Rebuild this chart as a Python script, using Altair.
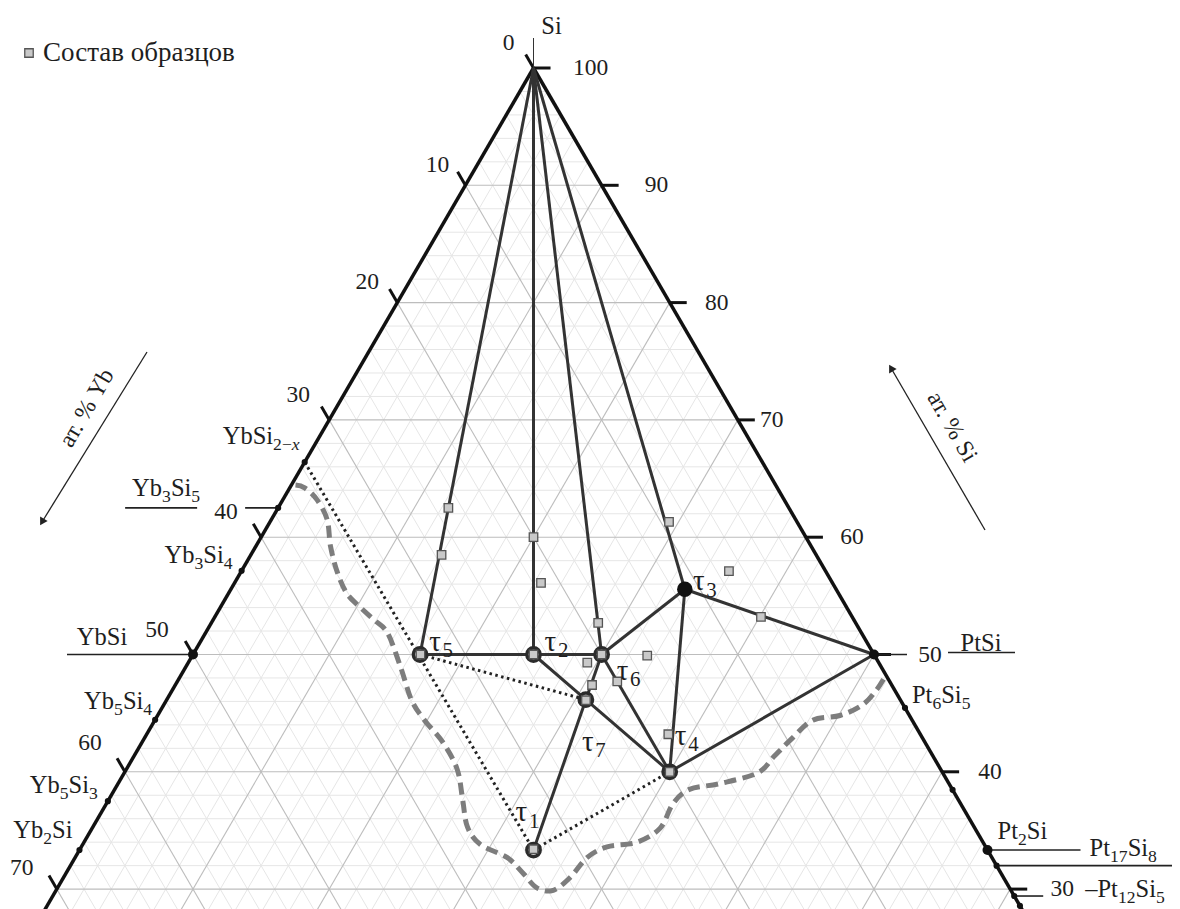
import altair as alt
import pandas as pd

# ---------------- layout constants (pixels) ----------------
W, H = 1164, 901
SX, SY = 681.0, 1173.0      # px per unit of (Pt-Yb) and of Si fraction
X0, Y0 = 525.5, 60.0        # plot-pixel position of the Si apex
FONT = "Liberation Serif, Times New Roman, DejaVu Serif, serif"
TXT = "#1e1e1e"
F_LAB, F_TAU, F_TICK = 24.5, 29, 23.5
SUB = 0.72

# ---------------- data (at.%) ----------------
# ternary phases tau1..tau7
tau_keys = ["t1", "t2", "t3", "t4", "t5", "t6", "t7"]
tau_sub = ["1", "2", "3", "4", "5", "6", "7"]
tau_yb = [33.33, 25.0, 11.11, 20.0, 33.33, 20.0, 23.08]
tau_pt = [33.33, 25.0, 33.33, 40.0, 16.67, 30.0, 30.77]
tau_si = [33.33, 50.0, 55.56, 40.0, 50.0, 50.0, 46.15]
tau_filled = [False, False, True, False, False, False, False]

# binary compounds on the edges
edge_keys = ["YbSi2x", "Yb3Si5", "Yb3Si4", "YbSi", "Yb5Si4", "Yb5Si3", "Yb2Si",
             "PtSi", "Pt6Si5", "Pt8Si5", "Pt2Si", "Pt17Si8", "Pt12Si5", "Pt5Si2"]
edge_yb = [33.6, 37.5, 42.86, 50.0, 55.56, 62.5, 66.67, 0, 0, 0, 0, 0, 0, 0]
edge_pt = [0, 0, 0, 0, 0, 0, 0, 50.0, 54.55, 61.54, 66.67, 68.0, 70.59, 71.43]
edge_big = [False, False, False, True, False, False, False,
            True, False, False, True, False, False, False]

# sample compositions (Состав образцов)
sample_yb = [25.0, 27.5, 20.0, 21.4, 18.9, 21.4, 22.0, 20.0, 16.7, 18.5, 9.4, 7.1, 6.7,
             33.3, 25.0, 20.0, 33.3, 20.0, 23.1]
sample_pt = [12.5, 14.0, 20.0, 22.5, 28.4, 29.3, 30.6, 32.3, 33.4, 38.3, 29.3, 35.8, 40.1,
             33.3, 25.0, 40.0, 16.7, 30.0, 30.8]

# dashed boundary curve (Pt, Si)
curve_pt = [0.3, 1.1, 2.5, 4.1, 5.5, 7.1, 8.7, 10.3, 11.9, 13.4, 15.8, 18.0, 19.8, 22.1,
            24.3, 26.0, 27.5, 29.2, 31.7, 33.5, 35.2, 36.5, 37.2, 37.6, 38.6, 40.6, 41.7,
            41.6, 42.2, 44.2, 46.5, 47.0, 47.5, 48.3, 50.1, 51.3, 51.7, 51.75]
curve_si = [64.45, 64.2, 63.2, 61.5, 59.2, 57.0, 55.2, 54.0, 52.9, 51.8, 48.9, 46.1, 44.4,
            42.5, 40.2, 37.6, 35.3, 33.8, 32.7, 31.4, 30.1, 29.9, 31.0, 32.7, 33.6, 34.0,
            35.2, 37.3, 38.5, 39.0, 39.9, 41.3, 42.7, 44.4, 44.8, 45.7, 47.0, 48.25]

solid_pairs = [("Si", "t5"), ("Si", "t2"), ("Si", "t6"), ("Si", "t3"), ("t5", "t2"),
               ("t2", "t6"), ("t6", "t3"), ("t3", "PtSi"), ("t3", "t4"), ("t4", "PtSi"),
               ("t6", "t4"), ("t6", "t7"), ("t2", "t7"), ("t7", "t4"), ("t7", "t1")]
dotted_pairs = [("YbSi2x", "t1"), ("t5", "t7"), ("t1", "t4")]

yb_ticks = [0, 10, 20, 30, 40, 50, 60, 70]
si_ticks = [100, 90, 80, 70, 60, 50, 40, 30]

# label texts: (anchor, segments[(text, kind 0=normal 1=sub 2=sub italic)], dx, dy, align)
comp_labels = [
    ("YbSi2x", [("YbSi", 0), ("2−", 1), ("x", 2)], -5, -25, "right"),
    ("Yb3Si5", [("Yb", 0), ("3", 1), ("Si", 0), ("5", 1)], -112, -19, "center"),
    ("Yb3Si4", [("Yb", 0), ("3", 1), ("Si", 0), ("4", 1)], -9, -15, "right"),
    ("YbSi", [("YbSi", 0)], -91, -17, "center"),
    ("Yb5Si4", [("Yb", 0), ("5", 1), ("Si", 0), ("4", 1)], -3, -18, "right"),
    ("Yb5Si3", [("Yb", 0), ("5", 1), ("Si", 0), ("3", 1)], -10, -15, "right"),
    ("Yb2Si", [("Yb", 0), ("2", 1), ("Si", 0)], -7, -19, "right"),
    ("PtSi", [("PtSi", 0)], 107, -11, "center"),
    ("Pt6Si5", [("Pt", 0), ("6", 1), ("Si", 0), ("5", 1)], 7, -12, "left"),
    ("Pt2Si", [("Pt", 0), ("2", 1), ("Si", 0)], 10, -18, "left"),
    ("Pt17Si8", [("Pt", 0), ("17", 1), ("Si", 0), ("8", 1)], 93, -17, "left"),
    ("Pt12Si5", [("–Pt", 0), ("12", 1), ("Si", 0), ("5", 1)], 71, -6, "left"),
]

# ---------------- helpers ----------------
def xy(yb, pt, si, dx=0.0, dy=0.0):
    return (pt - yb) / 100.0 + dx / SX, si / 100.0 - dy / SY


nodes = {"Si": (0.0, 0.0, 100.0)}
for k, a, b, c in zip(tau_keys, tau_yb, tau_pt, tau_si):
    nodes[k] = (a, b, c)
for k, a, b in zip(edge_keys, edge_yb, edge_pt):
    nodes[k] = (a, b, 100.0 - a - b)

xs = alt.Scale(domain=[-X0 / SX, (W - X0) / SX], nice=False, zero=False)
ys = alt.Scale(domain=[1 - (H - Y0) / SY, 1 + Y0 / SY], nice=False, zero=False)
X = alt.X("x:Q", scale=xs, axis=None)
Y = alt.Y("y:Q", scale=ys, axis=None)


def seg_df(rows):
    return pd.DataFrame(rows, columns=["x", "y", "x2", "y2"])


def rules(rows, **mk):
    return alt.Chart(seg_df(rows)).mark_rule(**mk).encode(x=X, y=Y, x2="x2:Q", y2="y2:Q")


layers = []

# ---------------- grid ----------------
fine, main = [], []
for v in range(2, 100, 2):
    target = main if v % 10 == 0 else fine
    target.append((*xy(100 - v, 0, v), *xy(0, 100 - v, v)))            # const Si
    target.append((*xy(v, 0, 100 - v), *xy(v, 100 - v, 0)))            # const Yb
    target.append((*xy(0, v, 100 - v), *xy(100 - v, v, 0)))            # const Pt
layers.append(rules(fine, color="#e6e6e6", strokeWidth=1, clip=True))
layers.append(rules(main, color="#bdbdbd", strokeWidth=1.1, clip=True))

# ---------------- triangle edges and ticks ----------------
edges = [(*xy(0, 0, 100), *xy(100, 0, 0)), (*xy(0, 0, 100), *xy(0, 100, 0))]
layers.append(rules(edges, color="#111111", strokeWidth=3.5, clip=True))
ticks = []
for a in yb_ticks:
    ticks.append((*xy(a, 0, 100 - a), *xy(a, -1.15, 100 - a + 1.15)))
for s in si_ticks:
    ticks.append((*xy(0, 100 - s, s), *xy(-1.25, 100 - s + 1.25, s)))
layers.append(rules(ticks, color="#111111", strokeWidth=3, clip=True))
layers.append(rules([(*xy(0, 0, 100), *xy(0, 0, 100, 0, -30))], color="#333333", strokeWidth=1))

# ---------------- leader lines for compound labels ----------------
leaders_spec = [("Yb3Si5", -153, -81, 0), ("Yb3Si5", -33, 0, 0), ("YbSi", -126, 0, 0),
                ("PtSi", 0, 33, 0), ("PtSi", 74, 141, -2), ("Pt2Si", 0, 93, 0),
                ("Pt17Si8", 0, 190, 0), ("Pt12Si5", 0, 29, 0)]
lead = []
for k, d1, d2, dyy in leaders_spec:
    a, b, c = nodes[k]
    lead.append((*xy(a, b, c, d1, dyy), *xy(a, b, c, d2, dyy)))
layers.append(rules(lead, color="#222222", strokeWidth=1.6))

# ---------------- tie lines ----------------
def pair_rows(pairs):
    return [(*xy(*nodes[p]), *xy(*nodes[q])) for p, q in pairs]


layers.append(rules(pair_rows(solid_pairs), color="#333333", strokeWidth=3))
layers.append(rules(pair_rows(dotted_pairs), color="#222222", strokeWidth=3,
                    strokeDash=[2.5, 3.5]))

# ---------------- dashed boundary ----------------
cdf = pd.DataFrame({"pt": curve_pt, "si": curve_si})
cdf["yb"] = 100 - cdf.pt - cdf.si
cdf["x"] = (cdf.pt - cdf.yb) / 100.0
cdf["y"] = cdf.si / 100.0
cdf["o"] = range(len(cdf))
layers.append(alt.Chart(cdf).mark_line(color="#7d7d7d", strokeWidth=5, strokeDash=[12, 6.5],
                                       interpolate="cardinal").encode(x=X, y=Y, order="o:Q"))

# ---------------- edge compound dots ----------------
edf = pd.DataFrame({"yb": edge_yb, "pt": edge_pt, "big": edge_big})
edf["x"] = (edf.pt - edf.yb) / 100.0
edf["y"] = (100 - edf.yb - edf.pt) / 100.0
layers.append(alt.Chart(edf[~edf.big]).mark_point(shape="circle", filled=True, color="#111111",
                                                  size=38, opacity=1).encode(x=X, y=Y))
layers.append(alt.Chart(edf[edf.big]).mark_point(shape="circle", filled=True, color="#111111",
                                                 size=100, opacity=1).encode(x=X, y=Y))

# ---------------- tau points ----------------
tdf = pd.DataFrame({"yb": tau_yb, "pt": tau_pt, "si": tau_si, "filled": tau_filled})
tdf["x"] = (tdf.pt - tdf.yb) / 100.0
tdf["y"] = tdf.si / 100.0
layers.append(alt.Chart(tdf[~tdf.filled]).mark_point(shape="circle", filled=True, fill="white",
                                                     stroke="#2b2b2b", strokeWidth=3.6,
                                                     size=175, opacity=1).encode(x=X, y=Y))
layers.append(alt.Chart(tdf[tdf.filled]).mark_point(shape="circle", filled=True, color="#111111",
                                                    size=240, opacity=1).encode(x=X, y=Y))

# ---------------- samples ----------------
sdf = pd.DataFrame({"yb": sample_yb, "pt": sample_pt})
sdf["x"] = (sdf.pt - sdf.yb) / 100.0
sdf["y"] = (100 - sdf.yb - sdf.pt) / 100.0
layers.append(alt.Chart(sdf).mark_point(shape="square", filled=True, fill="#c9c9c9",
                                        stroke="#555555", strokeWidth=1.3, size=72,
                                        opacity=1).encode(x=X, y=Y))

# ---------------- texts ----------------
CW = {"Y": .722, "b": .5, "S": .556, "i": .278, "P": .556, "t": .278, "x": .444,
      "−": .564, "–": .5, "τ": .46}


def cw(ch):
    return CW.get(ch, .5)


def rich_rows(anchor, segs, F, dx, dy, align):
    """Split a label with subscripts into left-aligned pieces."""
    a, b, c = anchor
    sizes = [F if k == 0 else F * SUB for _, k in segs]
    widths = [sum(cw(ch) for ch in t) * s for (t, _), s in zip(segs, sizes)]
    total = sum(widths)
    start = dx - (total if align == "right" else total / 2 if align == "center" else 0)
    out = []
    pos = start
    for (t, k), s, w in zip(segs, sizes, widths):
        ddy = dy + (0.33 * F if k else 0)
        out.append((*xy(a, b, c, pos, ddy), t, s, k == 2))
        pos += w
    return out


rich = []
for k, segs, dx, dy, al in comp_labels:
    rich += rich_rows(nodes[k], segs, F_LAB, dx, dy, al)
tau_off = {"t1": (-6, -38), "t2": (23, -13), "t3": (20, -8), "t4": (17, -36),
           "t5": (21, -13), "t6": (27, 16), "t7": (8, 42)}
for k, sb in zip(tau_keys, tau_sub):
    dx, dy = tau_off[k]
    rich += rich_rows(nodes[k], [("τ", 0), (sb, 1)], F_TAU, dx, dy, "center")
rdf = pd.DataFrame(rich, columns=["x", "y", "t", "fs", "it"])
for it, style in [(False, "normal"), (True, "italic")]:
    layers.append(alt.Chart(rdf[rdf.it == it]).mark_text(
        font=FONT, color=TXT, align="left", baseline="middle", fontStyle=style).encode(
        x=X, y=Y, text="t:N", size=alt.Size("fs:Q", scale=None, legend=None)))


def text_layer(rows, size, align="center"):
    df = pd.DataFrame(rows, columns=["x", "y", "t"])
    return alt.Chart(df).mark_text(font=FONT, fontSize=size, color=TXT, align=align,
                                   baseline="middle").encode(x=X, y=Y, text="t:N")


yb_off = [(-25, -25), (-28, -20), (-30, -21), (-31, -25), (-35, -25), (-36, -25), (-35, -29),
          (-35, -21)]
rows = [(*xy(a, 0, 100 - a, dx, dy), str(a)) for a, (dx, dy) in zip(yb_ticks, yb_off)]
si_off = [57, 55, 47, 34, 46, 56, 48, 52]
rows += [(*xy(0, 100 - s, s, dx, 0), str(s)) for s, dx in zip(si_ticks, si_off)]
layers.append(text_layer(rows, F_TICK))
layers.append(text_layer([(*xy(0, 0, 100, 18, -41), "Si")], F_LAB))

# axis captions with arrows (layout decorations, plot-pixel positions)
one = pd.DataFrame({"a": [0]})
layers.append(alt.Chart(one).mark_rule(color="#222222", strokeWidth=1.3).encode(
    x=alt.value(139), y=alt.value(344), x2=alt.value(34), y2=alt.value(514)))
layers.append(alt.Chart(one).mark_point(
    shape="triangle-up", filled=True, color="#222222", size=75, angle=210, opacity=1).encode(
    x=alt.value(34), y=alt.value(514)))
layers.append(alt.Chart(one).mark_text(
    font=FONT, fontSize=24, color=TXT, angle=300, text="ат. % Yb").encode(
    x=alt.value(79), y=alt.value(400)))
layers.append(alt.Chart(one).mark_rule(color="#222222", strokeWidth=1.3).encode(
    x=alt.value(883), y=alt.value(360), x2=alt.value(977), y2=alt.value(522)))
layers.append(alt.Chart(one).mark_point(
    shape="triangle-up", filled=True, color="#222222", size=75, angle=330, opacity=1).encode(
    x=alt.value(883), y=alt.value(360)))
layers.append(alt.Chart(one).mark_text(
    font=FONT, fontSize=24, color=TXT, angle=60, text="ат. % Si").encode(
    x=alt.value(944), y=alt.value(419)))

# legend
layers.append(alt.Chart(one).mark_point(
    shape="square", filled=True, fill="#c9c9c9", stroke="#555555", strokeWidth=1.3, size=72,
    opacity=1).encode(x=alt.value(21), y=alt.value(45)))
layers.append(alt.Chart(one).mark_text(
    font=FONT, fontSize=27, color=TXT, align="left", text="Состав образцов").encode(
    x=alt.value(35), y=alt.value(45)))

chart = alt.layer(*layers).properties(
    width=W, height=H, padding=0, autosize=alt.AutoSizeParams(type="none")
).configure_view(stroke=None)

chart.save("out.html", embed_options={"renderer": "svg", "actions": False})
